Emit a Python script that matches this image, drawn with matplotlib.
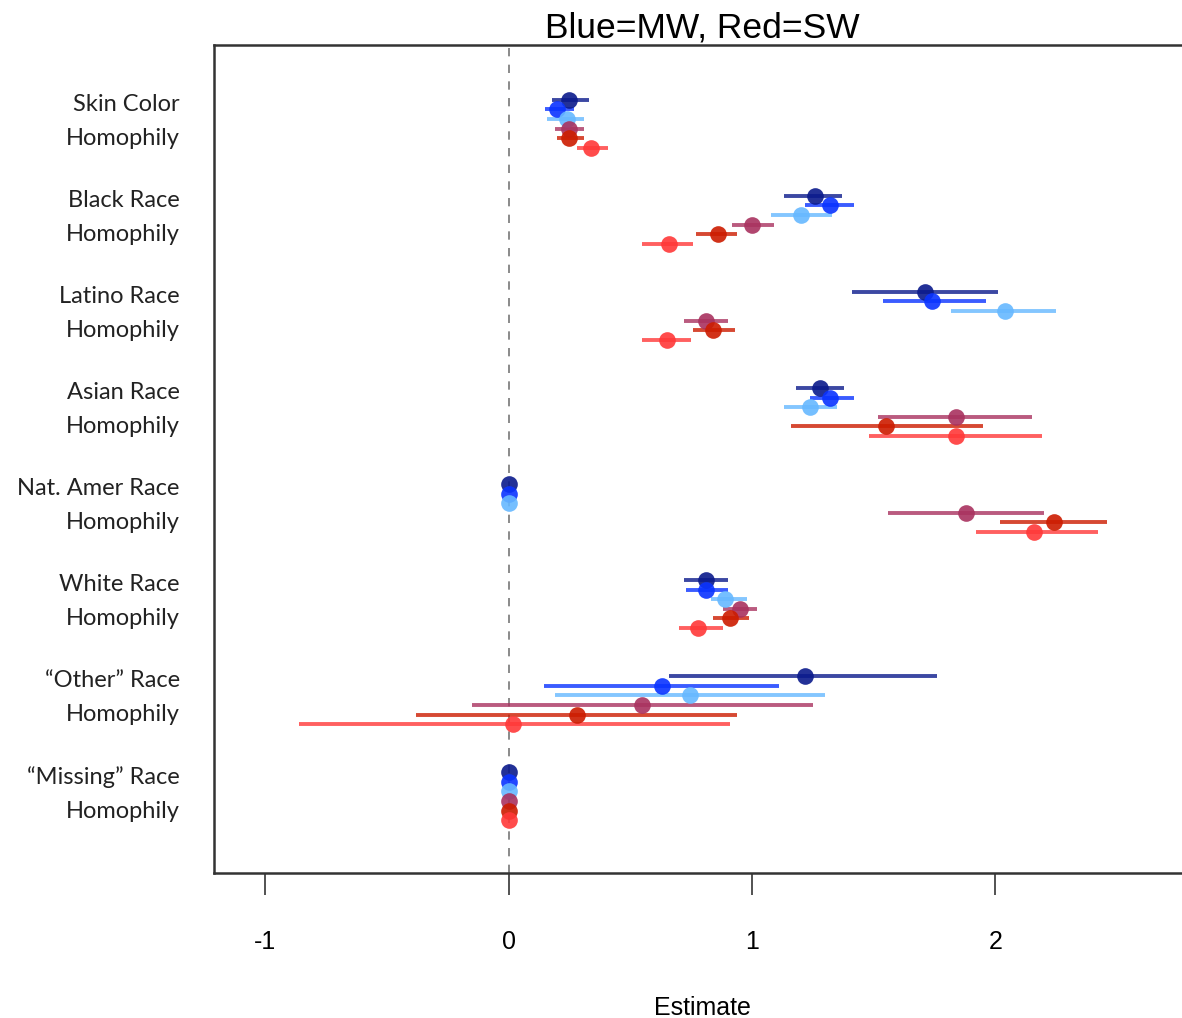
import matplotlib.pyplot as plt
import numpy as np

plt.rcParams['axes.unicode_minus'] = False

groups = ['Skin Color', 'Black Race', 'Latino Race', 'Asian Race',
          'Nat. Amer Race', 'White Race', '\u201cOther\u201d Race', '\u201cMissing\u201d Race']
colors = ['#0b1a8c', '#0a33ff', '#66b8ff', '#a9325f', '#cc1c00', '#ff3838']

# estimate, lower, upper : one row per series (3 MW blues, 3 SW reds), one column per group
est = [
    [0.25, 1.26, 1.71, 1.28, 0.00, 0.81, 1.22, 0.00],
    [0.20, 1.32, 1.74, 1.32, 0.00, 0.81, 0.63, 0.00],
    [0.24, 1.20, 2.04, 1.24, 0.00, 0.89, 0.745, 0.00],
    [0.25, 1.00, 0.81, 1.84, 1.88, 0.95, 0.55, 0.00],
    [0.25, 0.86, 0.84, 1.55, 2.24, 0.91, 0.28, 0.00],
    [0.34, 0.66, 0.65, 1.84, 2.16, 0.78, 0.02, 0.00],
]
lo = [
    [0.18, 1.13, 1.41, 1.18, 0.00, 0.72, 0.66, 0.00],
    [0.15, 1.22, 1.54, 1.24, 0.00, 0.73, 0.145, 0.00],
    [0.16, 1.08, 1.82, 1.13, 0.00, 0.83, 0.19, 0.00],
    [0.19, 0.92, 0.72, 1.52, 1.56, 0.88, -0.15, 0.00],
    [0.20, 0.77, 0.76, 1.16, 2.02, 0.84, -0.38, 0.00],
    [0.28, 0.55, 0.55, 1.48, 1.92, 0.70, -0.86, 0.00],
]
hi = [
    [0.33, 1.37, 2.01, 1.38, 0.00, 0.90, 1.76, 0.00],
    [0.27, 1.42, 1.96, 1.42, 0.00, 0.90, 1.11, 0.00],
    [0.31, 1.33, 2.25, 1.35, 0.00, 0.98, 1.30, 0.00],
    [0.31, 1.09, 0.90, 2.15, 2.20, 1.02, 1.25, 0.00],
    [0.31, 0.94, 0.93, 1.95, 2.46, 0.99, 0.94, 0.00],
    [0.41, 0.76, 0.75, 2.19, 2.42, 0.88, 0.91, 0.00],
]

fig = plt.figure(figsize=(11.82, 10.18), dpi=100)
ax = fig.add_axes([214/1182, 1-873/1018, (1190-214)/1182, (873-45)/1018])

ax.axvline(0, color='#777777', lw=1.2, ls=(0, (5, 5)), zorder=1)

for s in range(6):
    y = np.arange(len(groups)) * 10 + s
    ax.hlines(y, lo[s], hi[s], color=colors[s], lw=2.8, alpha=0.8, zorder=2)
    ax.plot(est[s], y, 'o', color=colors[s], ms=12, alpha=0.9, mec='none', zorder=3)

ax.set_xlim(-1.21, 2.80)
ax.set_ylim(80.5, -5.7)
ax.set_yticks([])
ax.set_xticks([-1, 0, 1, 2])
ax.tick_params(axis='x', direction='out', length=16, width=1.3, color='#444444',
               pad=25, labelsize=18)
for lab in ax.get_xticklabels():
    lab.set_fontfamily('Liberation Sans')
for sp in ax.spines.values():
    sp.set_color('#333333')
    sp.set_linewidth(1.8)

tr = ax.get_yaxis_transform()
for g, name in enumerate(groups):
    ax.text(-0.035, g*10 + 0.5, name, transform=tr, ha='right', va='center',
            fontsize=17, family='Lato', color='#222222')
    ax.text(-0.035, g*10 + 4.05, 'Homophily', transform=tr, ha='right', va='center',
            fontsize=17, family='Lato', color='#222222')

ax.set_title('Blue=MW, Red=SW', fontsize=25.5, family='Liberation Sans', pad=3)
ax.set_xlabel('Estimate', fontsize=18, family='Liberation Sans', labelpad=30)

fig.savefig('out.png', dpi=100)
